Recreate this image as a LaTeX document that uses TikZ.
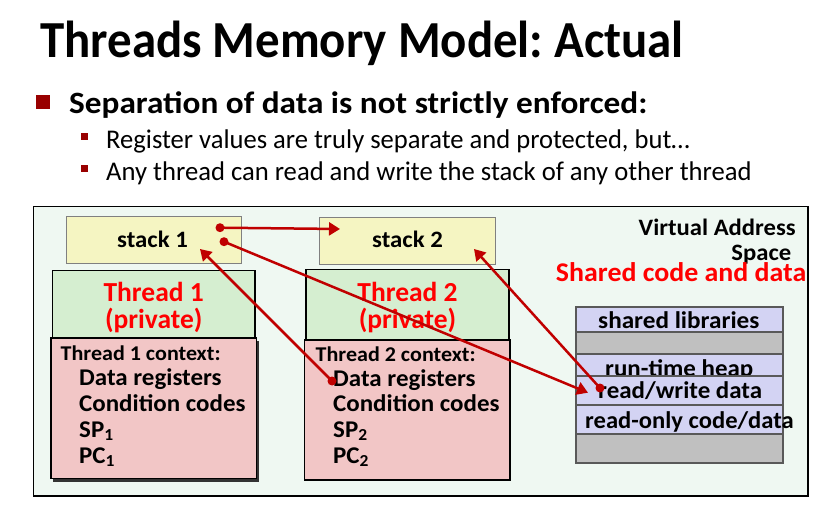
\documentclass[tikz,border=0pt]{standalone}
\usepackage{graphicx}
\usepackage{fontspec}
\setmainfont{Carlito}
\usetikzlibrary{arrows.meta}
\definecolor{bulletred}{HTML}{990000}
\definecolor{framefill}{HTML}{EFF8F2}
\definecolor{stackfill}{HTML}{F5F5C2}
\definecolor{privfill}{HTML}{D5EED0}
\definecolor{ctxfill}{HTML}{F2C6C6}
\definecolor{memfill}{HTML}{D3D3F3}
\definecolor{gapfill}{HTML}{C0C0C0}
\definecolor{arrowred}{HTML}{C00000}
\definecolor{textred}{HTML}{FF0000}
\newcommand{\xs}[2]{\scalebox{#1}[1]{#2}}
\frenchspacing
\begin{document}
\begin{tikzpicture}[x=1pt,y=-1pt,
  box/.style={rectangle, anchor=north west, inner sep=0, outer sep=0},
  stackbox/.style={box, draw=black!50, line width=1pt, fill=stackfill},
  privbox/.style={box, draw=black, line width=1.6pt, fill=privfill},
  ctxbox/.style={box, draw=black, line width=1.6pt, fill=ctxfill},
  membox/.style={box, draw=black!65, line width=1.2pt, fill=memfill, minimum width=207pt},
  gapbox/.style={box, draw=black!65, line width=1.2pt, fill=gapfill, minimum width=207pt},
  lbl/.style={inner sep=0, anchor=base west},
  stacktxt/.style={inner sep=0, anchor=base west, font=\fontsize{23.5}{26}\selectfont\bfseries},
  privtxt/.style={inner sep=0, anchor=base, text=textred, font=\fontsize{27.5}{30}\selectfont\bfseries},
  ctxhead/.style={lbl, font=\fontsize{21}{23}\selectfont\bfseries},
  ctxtxt/.style={lbl, font=\fontsize{24}{26}\selectfont\bfseries},
  memtxt/.style={lbl, font=\fontsize{24}{26}\selectfont\bfseries},
  conn/.style={draw=arrowred, line width=2.5pt, -{Triangle[length=11pt,width=13pt]}},
  dot/.style={fill=arrowred}
]
\useasboundingbox (0,0) rectangle (828,505);
\fill[white] (0,0) rectangle (828,505);

% title and bullets
\node[lbl, font=\fontsize{52}{60}\selectfont\bfseries] (title) at (40,58) {\xs{0.94}{Threads Memory Model: Actual}};
\node[box, fill=bulletred, minimum width=14pt, minimum height=14pt] (b0) at (36,95) {};
\node[lbl, font=\fontsize{31}{36}\selectfont\bfseries] (l0) at (69,113.3) {\xs{1.073}{Separation of data is not strictly enforced:}};
\node[box, fill=bulletred, minimum width=6.5pt, minimum height=7pt] (b1) at (81,133) {};
\node[lbl, font=\fontsize{27}{32}\selectfont] (l1) at (106,148.5) {\xs{0.984}{Register values are truly separate and protected, but…}};
\node[box, fill=bulletred, minimum width=6.5pt, minimum height=7pt] (b2) at (81,165) {};
\node[lbl, font=\fontsize{27}{32}\selectfont] (l2) at (106,181) {\xs{0.986}{Any thread can read and write the stack of any other thread}};

% frame
\node[box, draw=black, line width=1.6pt, fill=framefill, minimum width=774.5pt, minimum height=289.5pt] (frame) at (33.5,206.5) {};

% stacks
\node[stackbox, minimum width=175pt, minimum height=47pt] (stack1) at (66.5,216.5) {};
\node[stacktxt] (s1t) at (117,248) {\xs{1.055}{stack 1}};
\node[stackbox, minimum width=175.5pt, minimum height=47pt] (stack2) at (319.5,217.5) {};
\node[stacktxt] (s2t) at (372,248) {\xs{1.055}{stack 2}};

% thread 1
\node[privbox, minimum width=202.5pt, minimum height=67.5pt] (t1priv) at (52.5,270.5) {};
\node[privtxt] (t1a) at (153.7,301.7) {Thread 1};
\node[privtxt] (t1b) at (153.7,328.5) {(private)};
\fill[black!80] (53,341) rectangle (259,481.5);
\node[ctxbox, minimum width=205.5pt, minimum height=140.5pt] (t1ctx) at (51,338) {};
\node[ctxhead] (c1h) at (60.5,360.5) {\xs{1.05}{Thread 1 context:}};
\node[ctxtxt] (c1a) at (79,385.5) {\xs{1.04}{Data registers}};
\node[ctxtxt] (c1b) at (79,411.5) {\xs{1.04}{Condition codes}};
\node[ctxtxt] (c1c) at (79,437) {\xs{1.04}{SP\textsubscript{1}}};
\node[ctxtxt] (c1d) at (79,463) {\xs{1.04}{PC\textsubscript{1}}};

% thread 2
\node[privbox, minimum width=203pt, minimum height=70.5pt] (t2priv) at (306,269.5) {};
\node[privtxt] (t2a) at (407.5,301.7) {Thread 2};
\node[privtxt] (t2b) at (407.5,328.5) {(private)};
\node[ctxbox, minimum width=205.5pt, minimum height=140pt] (t2ctx) at (304.5,340) {};
\node[ctxhead] (c2h) at (315.5,361.5) {\xs{1.05}{Thread 2 context:}};
\node[ctxtxt] (c2a) at (333,386) {\xs{1.04}{Data registers}};
\node[ctxtxt] (c2b) at (333,411.5) {\xs{1.04}{Condition codes}};
\node[ctxtxt] (c2c) at (333,437) {\xs{1.04}{SP\textsubscript{2}}};
\node[ctxtxt] (c2d) at (333,463) {\xs{1.04}{PC\textsubscript{2}}};

% virtual address space
\node[inner sep=0, anchor=base east, font=\fontsize{23.5}{26}\selectfont\bfseries] (vas1) at (796,236) {\xs{1.05}{Virtual Address}};
\node[inner sep=0, anchor=base east, font=\fontsize{23.5}{26}\selectfont\bfseries] (vas2) at (791.5,260.5) {\xs{1.05}{Space}};
\node[inner sep=0, anchor=base east, text=textred, font=\fontsize{27}{30}\selectfont\bfseries] (shared) at (806.5,281.5) {\xs{1.033}{Shared code and data}};

\node[membox, minimum height=25pt] (shlib) at (576,307) {};
\node[memtxt] (shlibt) at (598,329) {\xs{1.05}{shared libraries}};
\node[gapbox, minimum height=22pt] (gap1) at (576,332) {};
\node[membox, minimum height=22pt] (heap) at (576,354) {};
\node[memtxt] (heapt) at (605,376) {\xs{1.04}{run-time heap}};
\node[membox, minimum height=29pt] (rw) at (576,376) {};
\node[memtxt] (rwt) at (598,398) {\xs{1.04}{read/write data}};
\node[membox, minimum height=29pt] (ro) at (576,405) {};
\node[memtxt] (rot) at (585,428) {\xs{1.025}{read-only code/data}};
\node[gapbox, minimum height=29pt] (gap2) at (576,434) {};

% connectors
\coordinate (d1) at (220,227.7);
\coordinate (e1) at (340,229);
\coordinate (d2) at (224,241.7);
\coordinate (e2) at (588,392.7);
\coordinate (d3) at (332,381);
\coordinate (e3) at (200,249);
\coordinate (d4) at (600,388);
\coordinate (e4) at (474,249);
\draw[conn] (d1) -- (e1);
\draw[conn] (d2) -- (e2);
\draw[conn] (d3) -- (e3);
\draw[conn] (d4) -- (e4);
\foreach \p in {d1,d2,d3,d4} \fill[dot] (\p) circle (4.5pt);
\end{tikzpicture}
\end{document}
